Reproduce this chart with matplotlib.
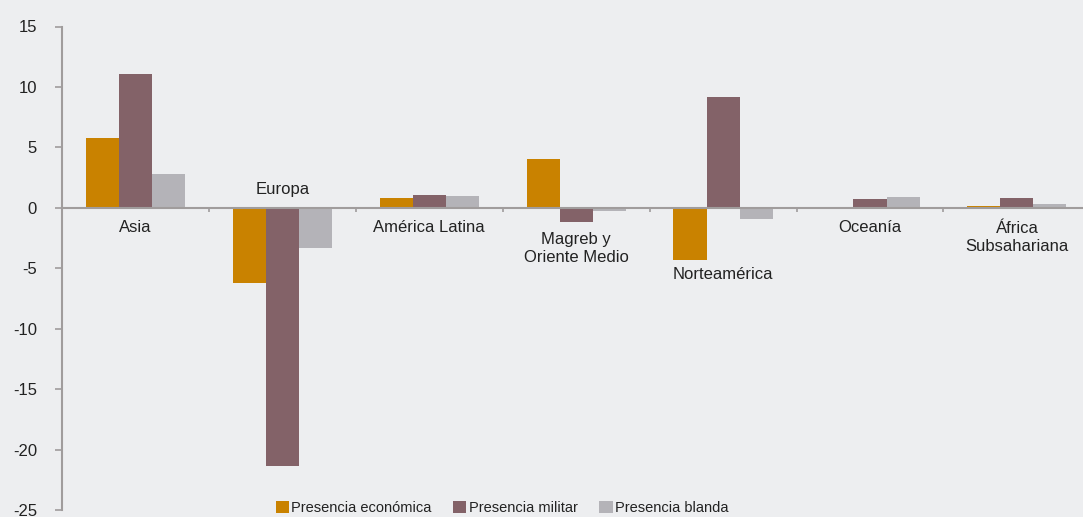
import numpy as np
import matplotlib
matplotlib.use('Agg')
import matplotlib.pyplot as plt
from matplotlib.ticker import FixedLocator

plt.rcParams['font.family'] = ['Liberation Sans', 'DejaVu Sans']
plt.rcParams['axes.unicode_minus'] = False

# datos
regiones = ['Asia', 'Europa', 'América Latina', 'Magreb y\nOriente Medio',
            'Norteamérica', 'Oceanía', 'África\nSubsahariana']
economica = [5.8, -6.2, 0.8, 4.0, -4.3, 0.0, 0.15]
militar = [11.1, -21.4, 1.1, -1.2, 9.2, 0.7, 0.8]
blanda = [2.8, -3.3, 1.0, -0.3, -0.9, 0.9, 0.3]
series_nombres = ['Presencia económica', 'Presencia militar', 'Presencia blanda']

# posición vertical de cada etiqueta de región (en unidades del eje)
label_y = [-1.65, 1.5, -1.65, -3.4, -5.5, -1.65, -2.45]

bg = '#edeef0'
colores = ['#c98200', '#836268', '#b4b3b8']
eje = '#a09c9c'

fig = plt.figure(figsize=(10.83, 5.17), dpi=100, facecolor=bg)
ax = fig.add_axes([62 / 1083, 7 / 517, 1 - 62 / 1083, (510 - 26.5) / 517])
ax.set_facecolor(bg)

x = np.arange(len(regiones))
w = 0.225
for k, (vals, col, nom) in enumerate(zip([economica, militar, blanda], colores, series_nombres)):
    ax.bar(x + (k - 1) * w, vals, width=w, color=col, label=nom, zorder=3)

for xi, (txt, yy) in enumerate(zip(regiones, label_y)):
    ax.text(xi, yy, txt, ha='center', va='center', fontsize=12, color='#222222',
            linespacing=1.25, zorder=4)

ax.set_xlim(-0.5, 6.45)
ax.set_ylim(-25, 15)
ax.set_yticks(np.arange(-25, 16, 5))
ax.tick_params(axis='y', length=5, width=1.2, color=eje, pad=13,
               labelsize=12, labelcolor='#222222')

ax.spines['top'].set_visible(False)
ax.spines['right'].set_visible(False)
ax.spines['bottom'].set_position(('data', 0))
ax.spines['bottom'].set_zorder(5)
for s in ['left', 'bottom']:
    ax.spines[s].set_color(eje)
    ax.spines[s].set_linewidth(1.5)

ax.xaxis.set_major_locator(FixedLocator(np.arange(0.5, 6.5, 1)))
ax.tick_params(axis='x', direction='out', length=3, width=1.2, color=eje,
               labelbottom=False)

fig.legend(loc='center', bbox_to_anchor=(502 / 1083, 9 / 517), ncol=3,
           frameon=False, fontsize=10.5, handlelength=0.9, handleheight=0.9,
           handletextpad=0.15, columnspacing=1.5, labelcolor='#222222')

fig.savefig('out.png', dpi=100, facecolor=bg)
